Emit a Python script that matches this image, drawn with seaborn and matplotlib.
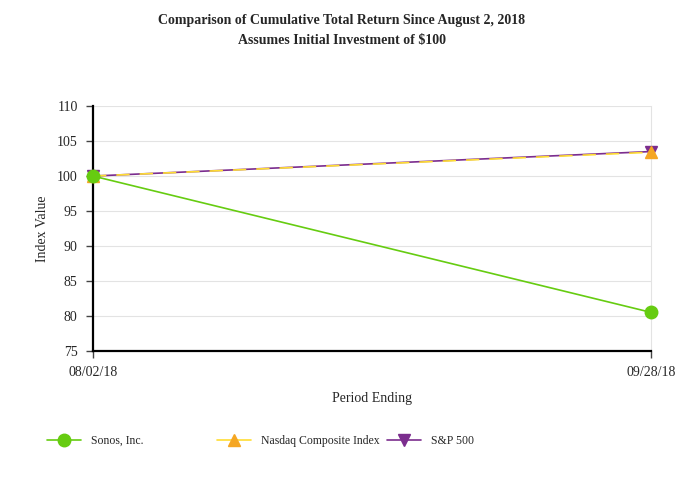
import pandas as pd
import matplotlib.pyplot as plt
import seaborn as sns

# Data
dates = ['08/02/18', '09/28/18']
sonos = [100, 80.5]
nasdaq = [100, 103.4]
sp500 = [100, 103.5]

series = {
    'Sonos, Inc.': sonos,
    'Nasdaq Composite Index': nasdaq,
    'S&P 500': sp500,
}
rows = []
for name, vals in series.items():
    for i, v in enumerate(vals):
        rows.append({'series': name, 'pos': i, 'value': v})
df = pd.DataFrame(rows)

sns.set_style('white')
plt.rcParams['font.family'] = ['Liberation Serif', 'DejaVu Serif']

fig = plt.figure(figsize=(6.84, 4.8), dpi=100)
ax = fig.add_axes([0.136, 0.269, 0.816, 0.510])

# line style, marker style, zorder
styles = {
    'Sonos, Inc.': dict(color='#66cc11', marker='o', ms=9, mfc='#66cc11', ls='-', z=7),
    'Nasdaq Composite Index': dict(color='#ffdd33', marker='^', ms=9, mfc='#f5a623', ls=(0, (8, 6)), z=6),
    'S&P 500': dict(color='#7b2d8e', marker='v', ms=9, mfc='#7b2d8e', ls='-', z=5),
}
handles = {}
for name in ['S&P 500', 'Nasdaq Composite Index', 'Sonos, Inc.']:
    st = styles[name]
    sub = df[df['series'] == name]
    sns.lineplot(data=sub, x='pos', y='value', ax=ax, color=st['color'], lw=1.2,
                 linestyle=st['ls'], legend=False, zorder=3)
    ax.plot(sub['pos'], sub['value'], ls='none', marker=st['marker'], ms=st['ms'],
            mfc=st['mfc'], mec=st['mfc'], clip_on=False, zorder=st['z'])
    handles[name] = plt.Line2D([], [], color=st['color'], lw=1.2, ls='-', marker=st['marker'],
                               ms=st['ms'], mfc=st['mfc'], mec=st['mfc'])

ax.set_xlim(0, 1)
ax.set_ylim(75, 110)
ax.set_yticks(range(75, 111, 5))
ax.set_xticks([0, 1])
ax.set_xticklabels(dates)
ax.yaxis.grid(True, color='#e3e3e3', lw=0.8)
ax.set_axisbelow(True)
for s in ['left', 'bottom']:
    ax.spines[s].set_color('black')
    ax.spines[s].set_linewidth(1.6)
ax.spines['top'].set_visible(False)
ax.spines['right'].set_color('#e3e3e3')
ax.spines['right'].set_linewidth(0.8)
ax.tick_params(axis='both', direction='out', length=5, width=1, color='#444444',
               labelsize=10, pad=6, left=True, bottom=True)
ax.tick_params(axis='x', pad=6)
ax.set_xlabel('Period Ending', fontsize=10, labelpad=9)
ax.set_ylabel('Index Value', fontsize=10, labelpad=6)

fig.text(0.5, 0.958, 'Comparison of Cumulative Total Return Since August 2, 2018',
         ha='center', va='center', fontsize=10, fontweight='bold')
fig.text(0.5, 0.915, 'Assumes Initial Investment of $100',
         ha='center', va='center', fontsize=10, fontweight='bold')

for name, x0 in [('Sonos, Inc.', 47), ('Nasdaq Composite Index', 217), ('S&P 500', 387)]:
    fig.legend([handles[name]], [name], loc='center left', bbox_to_anchor=(x0 / 684, 0.081),
               frameon=False, fontsize=8.5, handlelength=2.9, handletextpad=0.8,
               borderaxespad=0, borderpad=0)

fig.savefig('out.png', dpi=100)
